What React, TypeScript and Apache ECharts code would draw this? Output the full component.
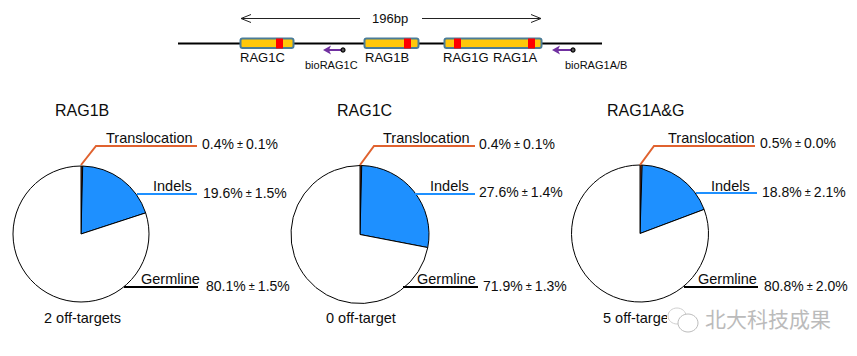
import React, { useEffect, useRef } from "react";
import * as echarts from "echarts";

const sliceNames = ["Translocation", "Indels", "Germline"];
const titles = ["RAG1B", "RAG1C", "RAG1A&G"];
const offTargets = ["2 off-targets", "0 off-target", "5 off-targets"];
const translocation = [0.4, 0.4, 0.5];
const indels = [19.6, 27.6, 18.8];
const germline = [80.1, 71.9, 80.8];
const translocationErr = ["0.1", "0.1", "0.0"];
const indelsErr = ["1.5", "1.4", "2.1"];
const germlineErr = ["1.5", "1.3", "2.0"];
const geneLabels = ["RAG1C", "RAG1B", "RAG1G", "RAG1A"];
const primerLabels = ["bioRAG1C", "bioRAG1A/B"];
const spanLabel = "196bp";
const watermark = "北大科技成果";

const FONT = "'Liberation Sans', Arial, sans-serif";
const TXT = "#0d0d0d";
const ORANGE = "#E0622F";
const BLUE = "#1E90FF";

const layouts = [
  { cx: 81, cy: 234, r: 68, title: 55, off: 44, tr: [81, 165, 96, 146, 197], tt: 106, tv: 202, ty: 144, ind: [137, 197, 194], it: 153, iv: 203, iy: 193, ger: [124, 198, 287], gt: 141, gv: 206, gy: 286 },
  { cx: 360, cy: 234.5, r: 69, title: 337, off: 326, tr: [360, 165, 374, 146, 475], tt: 383, tv: 479, ty: 144, ind: [415, 475, 194], it: 430, iv: 479, iy: 192, ger: [403, 478, 287], gt: 417, gv: 483, gy: 286 },
  { cx: 640, cy: 233.5, r: 68.5, title: 607, off: 603, tr: [640, 165, 654, 146, 755], tt: 668, tv: 760, ty: 143, ind: [696, 757, 193], it: 711, iv: 762, iy: 192, ger: [684, 758, 287], gt: 698, gv: 764, gy: 286 },
];

function text(x: number, y: number, t: string, size: number, extra: any = {}) {
  return {
    type: "text", x, y, z: 10,
    style: { text: t, fontFamily: FONT, fontSize: size, fill: TXT, textAlign: "left", textVerticalAlign: "middle", ...extra },
  };
}
function line(x1: number, y1: number, x2: number, y2: number, stroke: string, lineWidth: number) {
  return { type: "line", z: 5, shape: { x1, y1, x2, y2 }, style: { stroke, lineWidth } };
}
function rect(x: number, y: number, width: number, height: number, fill: string, extra: any = {}) {
  return { type: "rect", z: 6, shape: { x, y, width, height, ...extra.shape }, style: { fill, ...extra.style } };
}
function valueText(x: number, y: number, v: number, err: string) {
  return {
    type: "text", x, y, z: 10,
    style: {
      text: `{a|${v.toFixed(1)}%}{b| ± }{a|${err}%}`,
      textVerticalAlign: "middle",
      rich: {
        a: { fontFamily: FONT, fontSize: 14, fill: TXT },
        b: { fontFamily: FONT, fontSize: 11, fill: TXT },
      },
    },
  };
}
function gene(x: number, w: number, reds: number[], dividers: number[] = []) {
  return [
    { type: "rect", z: 6, shape: { x: x + 0.5, y: 38.5, width: w, height: 9.5, r: 2 }, style: { fill: "#FFC80A", stroke: "#4A7C98", lineWidth: 2 } },
    ...reds.map((rx) => rect(rx, 38.5, 7, 10, "#FF0000", {})),
    ...dividers.map((dx) => line(dx, 38.5, dx, 48, "#4A7C98", 1.2)),
  ];
}
function primer(tip: number, dot: number) {
  return [
    line(tip + 4, 50, dot, 50, "#7030A0", 2),
    { type: "polygon", z: 6, shape: { points: [[tip, 50], [tip + 8, 45.5], [tip + 6, 50], [tip + 8, 54.5]] }, style: { fill: "#7030A0" } },
    { type: "circle", z: 7, shape: { cx: dot, cy: 50, r: 2 }, style: { fill: "#555", stroke: "#000", lineWidth: 1.2 } },
  ];
}
function spanArrow(x1: number, x2: number, dir: number) {
  const tip = dir < 0 ? x1 : x2;
  return [
    line(x1, 18.5, x2, 18.5, "#222", 1),
    { type: "polyline", z: 5, shape: { points: [[tip - dir * 10, 14.5], [tip, 18.5], [tip - dir * 10, 22.5]] }, style: { stroke: "#222", lineWidth: 1, fill: "none" } },
  ];
}

export default function App() {
  const ref = useRef<HTMLDivElement>(null);
  useEffect(() => {
    document.body.style.margin = "0";
    const chart = echarts.init(ref.current!, null, { renderer: "svg" });
    const elements: any[] = [
      ...spanArrow(241, 360, -1),
      ...spanArrow(422, 541, 1),
      text(372, 18, spanLabel, 13),
      line(178, 43.5, 602, 43.5, "#000", 2),
      ...gene(240, 53, [276]),
      ...gene(364, 54, [404]),
      ...gene(444, 97, [454, 528], [487.5]),
      ...primer(323, 343),
      ...primer(552, 573),
      text(240, 57.5, geneLabels[0], 13),
      text(365, 57.5, geneLabels[1], 13),
      text(443, 57.5, geneLabels[2], 13),
      text(493, 57.5, geneLabels[3], 13),
      text(305, 64.5, primerLabels[0], 11),
      text(565, 64.5, primerLabels[1], 11),
    ];
    layouts.forEach((l, i) => {
      elements.push(
        text(l.title, 110, titles[i], 16),
        text(l.off, 318, offTargets[i], 14.5),
        text(l.tt, 138, sliceNames[0], 14.5),
        text(l.it, 186, sliceNames[1], 14.5),
        text(l.gt, 279, sliceNames[2], 14.5),
        valueText(l.tv, l.ty, translocation[i], translocationErr[i]),
        valueText(l.iv, l.iy, indels[i], indelsErr[i]),
        valueText(l.gv, l.gy, germline[i], germlineErr[i]),
        { type: "polyline", z: 5, shape: { points: [[l.tr[0], l.tr[1]], [l.tr[2], l.tr[3]], [l.tr[4], l.tr[3]]] }, style: { stroke: ORANGE, lineWidth: 2, fill: "none" } },
        line(l.ind[0], l.ind[2], l.ind[1], l.ind[2], BLUE, 2),
        line(l.ger[0], l.ger[2], l.ger[1], l.ger[2], "#000", 2.2),
      );
    });
    // watermark over the third pie's caption
    elements.push(
      { type: "rect", z: 20, shape: { x: 667, y: 306, width: 170, height: 28 }, style: { fill: "#fff" } },
      { type: "ellipse", z: 21, shape: { cx: 677, cy: 316, rx: 9, ry: 8 }, style: { fill: "#fff", stroke: "#d0d0d0", lineWidth: 1 } },
      { type: "ellipse", z: 21, shape: { cx: 688, cy: 323, rx: 10, ry: 9 }, style: { fill: "#fff", stroke: "#bcbcbc", lineWidth: 1 } },
      { type: "text", x: 705, y: 318, z: 21, style: { text: watermark, fontFamily: "'Noto Sans CJK SC'", fontSize: 21, fill: "#bbbbbb", textVerticalAlign: "middle" } },
    );

    chart.setOption({
      animation: false,
      backgroundColor: "#fff",
      series: layouts.map((l, i) => ({
        type: "pie",
        center: [l.cx, l.cy],
        radius: [0, l.r],
        startAngle: 90,
        clockwise: true,
        silent: true,
        label: { show: false },
        labelLine: { show: false },
        itemStyle: { borderColor: "#000", borderWidth: 1 },
        data: [
          { name: sliceNames[0], value: translocation[i], itemStyle: { color: ORANGE } },
          { name: sliceNames[1], value: indels[i], itemStyle: { color: BLUE } },
          { name: sliceNames[2], value: germline[i], itemStyle: { color: "#fff" } },
        ],
      })),
      graphic: { elements },
    });
    return () => chart.dispose();
  }, []);
  return <div ref={ref} style={{ width: 857, height: 356 }} />;
}
